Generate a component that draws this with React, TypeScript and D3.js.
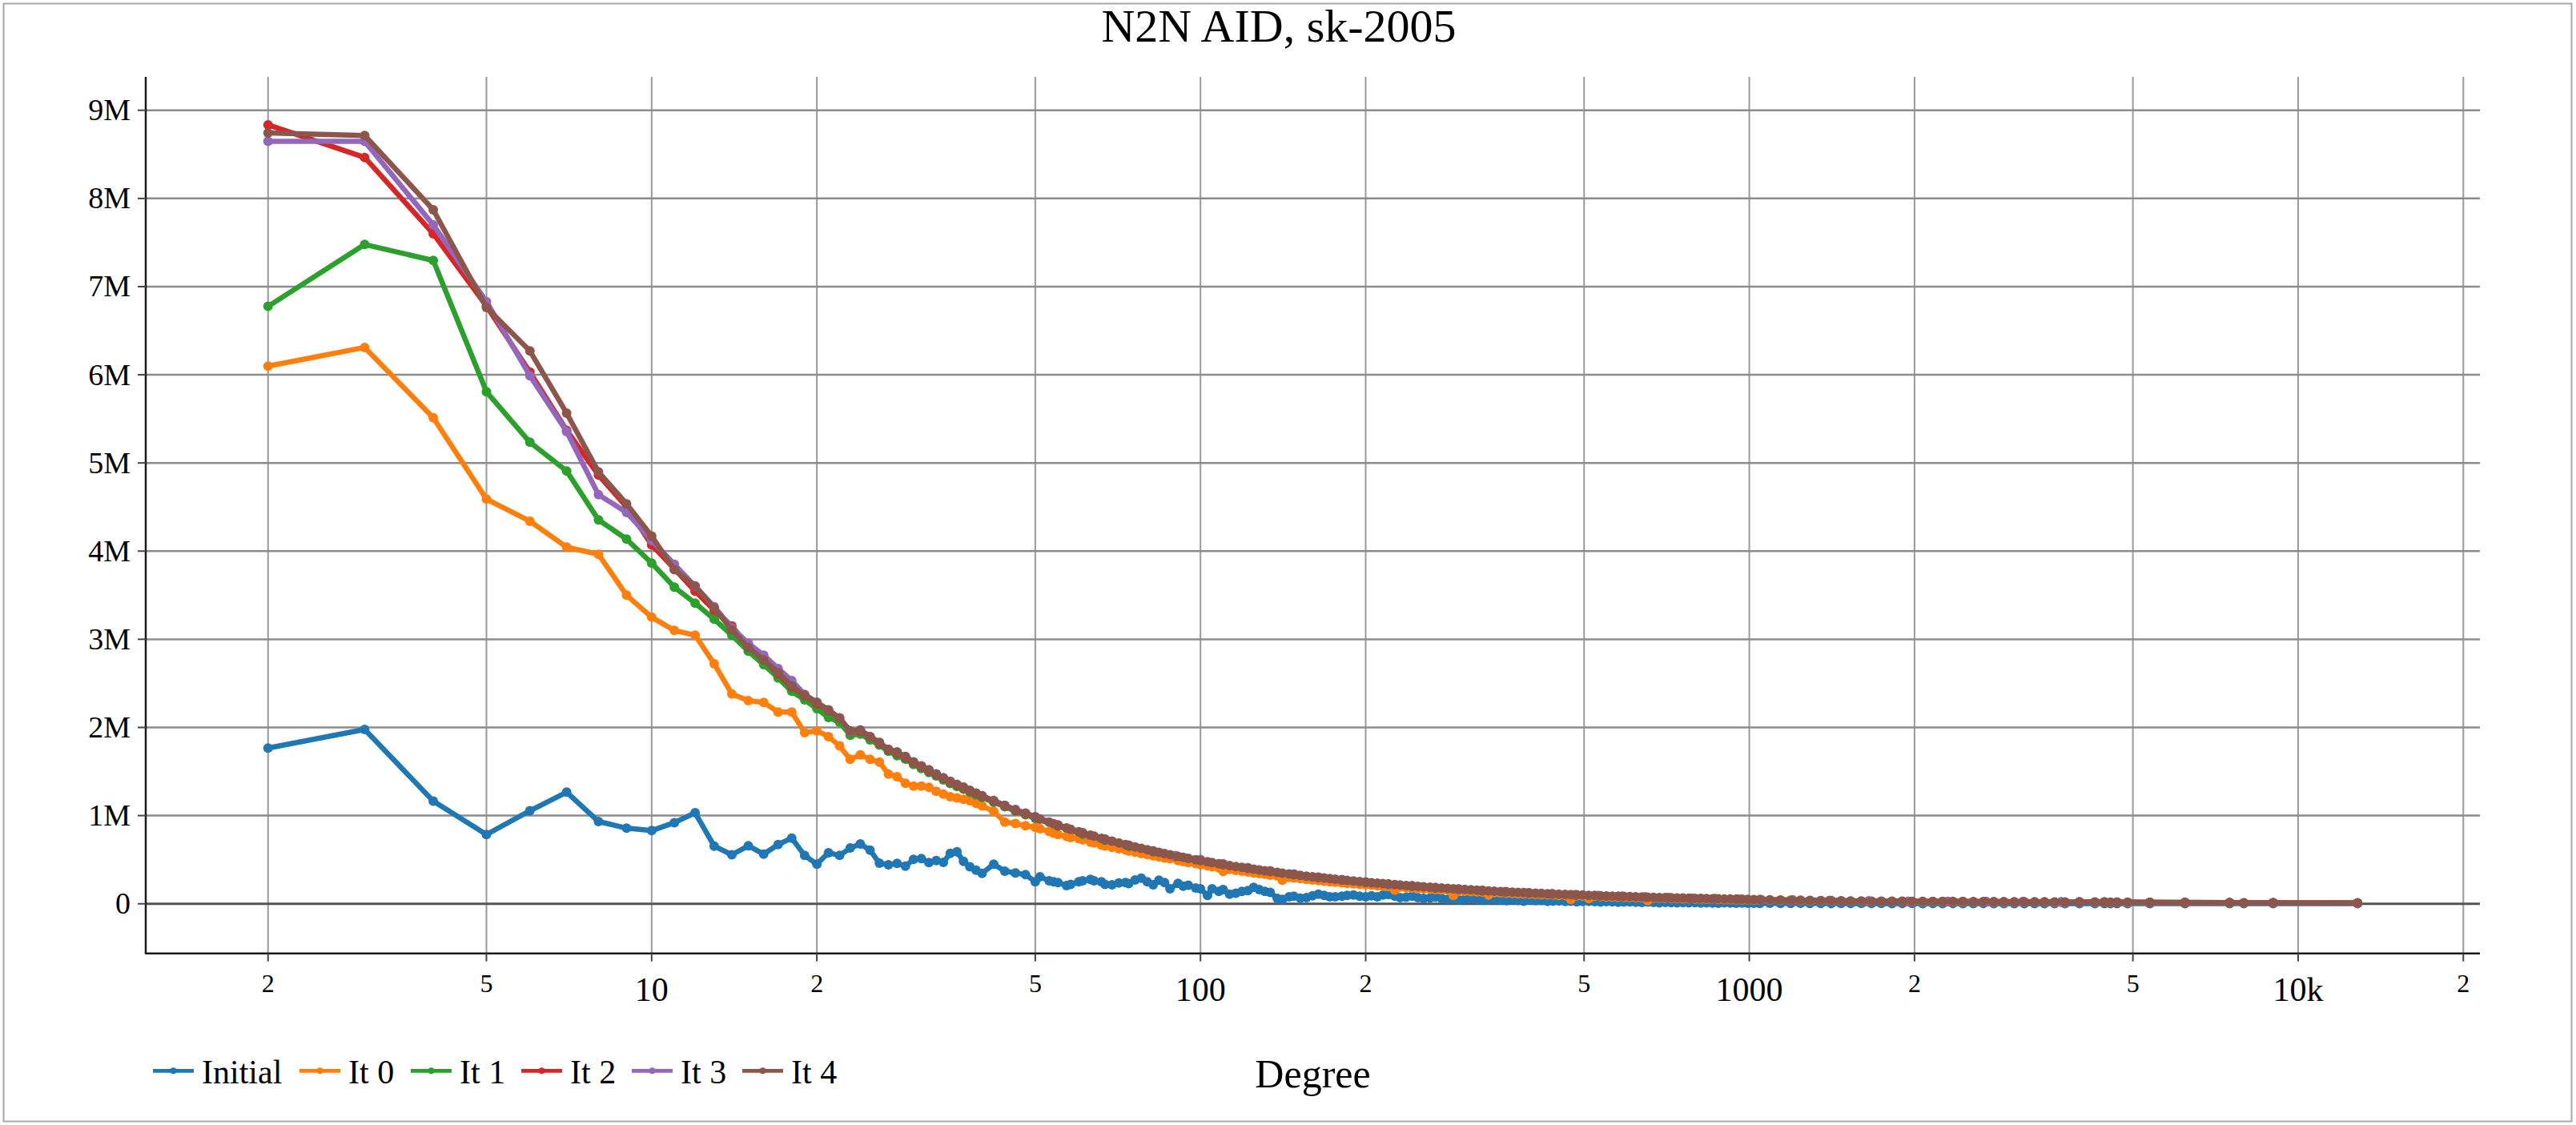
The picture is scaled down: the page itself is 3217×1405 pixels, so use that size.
import React from 'react';
import * as d3 from 'd3';

// ---------- data (values in millions) ----------
const seriesNames = ['Initial', 'It 0', 'It 1', 'It 2', 'It 3', 'It 4'];
const seriesColors = ['#1f77b4', '#ff7f0e', '#2ca02c', '#d62728', '#9467bd', '#8c564b'];

const degreesHead = [2, 3, 4, 5, 6, 7, 8, 9, 10, 11, 12, 13, 14, 15, 16, 17, 18, 19, 20, 21, 22, 23, 24, 25, 26, 27, 28, 29, 30, 31, 32, 33, 34, 35, 36, 37, 38, 39, 40, 42, 44, 46, 48, 50];

const degreesTail = [
  51, 53, 54, 55, 57, 58, 60, 61, 63, 64,
  66, 67, 69, 71, 73, 74, 76, 78, 80, 82,
  84, 86, 88, 91, 93, 95, 98, 100, 103, 105,
  108, 110, 113, 116, 119, 122, 125, 128, 131, 134,
  138, 141, 145, 148, 152, 156, 160, 164, 168, 172,
  176, 181, 185, 190, 195, 200, 205, 210, 215, 220,
  226, 231, 237, 243, 249, 255, 262, 268, 275, 282,
  289, 296, 303, 311, 319, 327, 335, 343, 352, 361,
  370, 379, 388, 398, 408, 418, 429, 439, 450, 462,
  473, 485, 497, 510, 523, 536, 549, 563, 577, 591,
  606, 621, 637, 653, 669, 686, 703, 721, 739, 757,
  776, 796, 816, 836, 857, 878, 900, 923, 946, 970,
  994, 1019, 1045, 1090, 1140, 1190, 1240, 1290, 1350, 1410,
  1470, 1530, 1600, 1670, 1740, 1820, 1900, 1980, 2070, 2160,
  2250, 2350, 2450, 2560, 2670, 2790, 2910, 3040, 3170, 3310,
  3450, 3600, 3760, 3995, 4262, 4437, 4551, 4677, 4891, 5368,
  6220, 7502, 7963, 9007, 12834,
];

const degreesTailCoarse = [55, 61, 67, 74, 82, 90, 100, 110, 122, 134, 148, 164, 181, 200, 220, 243, 268, 295, 326, 359, 396, 437, 482, 531, 586, 646, 712, 785, 865, 953, 1050, 1200, 1400, 1650, 1950, 2300, 2700, 3150, 3700, 3995, 4437, 4677, 5368, 6220, 7502, 9007, 12834];

const initialHead = [1.766, 1.977, 1.165, 0.785, 1.055, 1.266, 0.933, 0.857, 0.83, 0.92, 1.032, 0.654, 0.556, 0.657, 0.563, 0.672, 0.745, 0.548, 0.45, 0.579, 0.548, 0.632, 0.679, 0.609, 0.46, 0.442, 0.458, 0.427, 0.503, 0.512, 0.467, 0.49, 0.47, 0.572, 0.59, 0.48, 0.42, 0.381, 0.345, 0.45, 0.37, 0.35, 0.33, 0.25];
const initialTail = [
  0.306, 0.26, 0.25, 0.24, 0.206, 0.22, 0.25, 0.26, 0.276, 0.26,
  0.25, 0.22, 0.215, 0.235, 0.24, 0.23, 0.27, 0.291, 0.25, 0.215,
  0.267, 0.24, 0.17, 0.231, 0.2, 0.21, 0.18, 0.17, 0.094, 0.17,
  0.14, 0.16, 0.109, 0.12, 0.14, 0.15, 0.185, 0.16, 0.14, 0.13,
  0.06, 0.049, 0.08, 0.085, 0.064, 0.07, 0.09, 0.109, 0.095, 0.08,
  0.079, 0.085, 0.095, 0.1, 0.085, 0.079, 0.09, 0.08, 0.1, 0.105,
  0.085, 0.07, 0.075, 0.085, 0.07, 0.06, 0.065, 0.075, 0.06, 0.05,
  0.055, 0.043, 0.05, 0.06, 0.048, 0.04, 0.045, 0.05, 0.04, 0.035,
  0.045, 0.038, 0.03, 0.04, 0.035, 0.038, 0.028, 0.032, 0.034, 0.026,
  0.03, 0.022, 0.027, 0.028, 0.024, 0.02, 0.025, 0.022, 0.018, 0.021,
  0.022, 0.017, 0.015, 0.019, 0.016, 0.012, 0.016, 0.014, 0.01, 0.013,
  0.011, 0.013, 0.008, 0.011, 0.009, 0.007, 0.01, 0.008, 0.006, 0.008,
  0.006, 0.007, 0.005, 0.006, 0.004, 0.005, 0.006, 0.004, 0.005, 0.003,
  0.004, 0.003, 0.005, 0.003, 0.004, 0.002, 0.003, 0.004, 0.002, 0.003,
  0.002, 0.003, 0.002, 0.002, 0.003, 0.002, 0.001, 0.002, 0.002, 0.001,
  0.002, 0.001, 0.001, 0.002, 0.001, 0.001, 0.001, 0.001, 0.001, 0.001,
  0.001, 0.001, 0.001, 0.001, 0.001,
];

const it0Head = [6.098, 6.31, 5.513, 4.59, 4.339, 4.045, 3.964, 3.5, 3.25, 3.1, 3.046, 2.722, 2.38, 2.304, 2.283, 2.174, 2.174, 1.941, 1.962, 1.896, 1.79, 1.638, 1.689, 1.638, 1.608, 1.471, 1.441, 1.366, 1.335, 1.335, 1.32, 1.275, 1.244, 1.214, 1.2, 1.184, 1.169, 1.139, 1.11, 1.048, 0.926, 0.91, 0.885, 0.866];
const it0Tail = [
  0.85, 0.82, 0.8, 0.785, 0.765, 0.752, 0.74, 0.725, 0.7, 0.69,
  0.665, 0.655, 0.64, 0.625, 0.61, 0.6, 0.585, 0.57, 0.558, 0.545,
  0.532, 0.52, 0.51, 0.49, 0.478, 0.468, 0.455, 0.442, 0.43, 0.42,
  0.405, 0.367, 0.39, 0.378, 0.37, 0.36, 0.35, 0.342, 0.335, 0.325,
  0.315, 0.267, 0.3, 0.292, 0.285, 0.277, 0.27, 0.262, 0.256, 0.25,
  0.244, 0.238, 0.232, 0.226, 0.22, 0.215, 0.21, 0.205, 0.2, 0.196,
  0.154, 0.187, 0.182, 0.178, 0.173, 0.169, 0.165, 0.161, 0.157, 0.153,
  0.094, 0.146, 0.143, 0.139, 0.136, 0.132, 0.1, 0.126, 0.123, 0.12,
  0.117, 0.114, 0.111, 0.108, 0.106, 0.103, 0.101, 0.099, 0.096, 0.094,
  0.05, 0.09, 0.088, 0.06, 0.083, 0.081, 0.079, 0.077, 0.075, 0.073,
  0.072, 0.07, 0.068, 0.035, 0.065, 0.063, 0.062, 0.06, 0.059, 0.057,
  0.056, 0.055, 0.053, 0.052, 0.051, 0.049, 0.048, 0.047, 0.046, 0.045,
  0.044, 0.043, 0.042, 0.04, 0.038, 0.037, 0.036, 0.034, 0.033, 0.032,
  0.031, 0.029, 0.028, 0.027, 0.027, 0.026, 0.026, 0.025, 0.025, 0.024,
  0.024, 0.023, 0.023, 0.022, 0.022, 0.021, 0.021, 0.02, 0.02, 0.019,
  0.019, 0.018, 0.018, 0.017, 0.017, 0.016, 0.016, 0.016, 0.015, 0.014,
  0.013, 0.012, 0.011, 0.01, 0.008,
];

const it1Head = [6.776, 7.478, 7.297, 5.807, 5.235, 4.908, 4.354, 4.136, 3.864, 3.591, 3.41, 3.228, 3.046, 2.865, 2.713, 2.561, 2.41, 2.313, 2.213, 2.113, 2.06, 1.911, 1.925, 1.86, 1.8, 1.73, 1.68, 1.64, 1.58, 1.535, 1.49, 1.45, 1.405, 1.365, 1.33, 1.3, 1.265, 1.235, 1.205, 1.15, 1.1, 1.05, 1.01, 0.97];
const it1Tail = [0.88, 0.79, 0.72, 0.652, 0.59, 0.537, 0.492, 0.445, 0.402, 0.368, 0.331, 0.297, 0.268, 0.242, 0.22, 0.199, 0.18, 0.163, 0.148, 0.134, 0.122, 0.11, 0.1, 0.091, 0.082, 0.075, 0.068, 0.061, 0.056, 0.05, 0.046, 0.04, 0.034, 0.029, 0.027, 0.025, 0.023, 0.021, 0.019, 0.019, 0.018, 0.017, 0.015, 0.014, 0.012, 0.01, 0.008];

const it2Head = [8.835, 8.465, 7.6, 6.78, 6.03, 5.37, 4.863, 4.5, 4.07, 3.8, 3.546, 3.33, 3.15, 2.92, 2.77, 2.61, 2.46, 2.36, 2.27, 2.19, 2.11, 1.95, 1.96, 1.89, 1.82, 1.745, 1.71, 1.66, 1.6, 1.555, 1.51, 1.465, 1.42, 1.38, 1.345, 1.315, 1.28, 1.25, 1.218, 1.165, 1.11, 1.06, 1.02, 0.98];
const it2Tail = [0.888, 0.8, 0.728, 0.659, 0.595, 0.542, 0.498, 0.45, 0.406, 0.372, 0.334, 0.3, 0.271, 0.245, 0.222, 0.201, 0.182, 0.165, 0.149, 0.135, 0.123, 0.111, 0.1, 0.091, 0.083, 0.075, 0.068, 0.062, 0.056, 0.051, 0.046, 0.041, 0.035, 0.03, 0.027, 0.025, 0.024, 0.022, 0.02, 0.019, 0.018, 0.018, 0.016, 0.014, 0.013, 0.011, 0.009];

const it3Head = [8.647, 8.647, 7.7, 6.83, 5.99, 5.356, 4.641, 4.439, 4.12, 3.85, 3.6, 3.37, 3.13, 2.955, 2.82, 2.668, 2.531, 2.375, 2.285, 2.2, 2.105, 1.955, 1.97, 1.895, 1.83, 1.752, 1.72, 1.67, 1.61, 1.565, 1.52, 1.474, 1.43, 1.39, 1.354, 1.323, 1.287, 1.256, 1.226, 1.172, 1.117, 1.068, 1.028, 0.988];
const it3Tail = [0.895, 0.805, 0.733, 0.664, 0.6, 0.547, 0.502, 0.454, 0.41, 0.375, 0.337, 0.302, 0.273, 0.247, 0.224, 0.203, 0.184, 0.167, 0.151, 0.137, 0.125, 0.113, 0.102, 0.093, 0.084, 0.077, 0.07, 0.063, 0.058, 0.052, 0.048, 0.042, 0.036, 0.031, 0.028, 0.026, 0.024, 0.022, 0.02, 0.02, 0.019, 0.018, 0.016, 0.015, 0.013, 0.011, 0.009];

const it4Head = [8.744, 8.714, 7.872, 6.764, 6.27, 5.565, 4.899, 4.536, 4.17, 3.788, 3.606, 3.355, 3.106, 2.906, 2.767, 2.622, 2.471, 2.365, 2.283, 2.198, 2.102, 1.962, 1.971, 1.896, 1.829, 1.75, 1.72, 1.669, 1.608, 1.562, 1.517, 1.471, 1.426, 1.387, 1.351, 1.32, 1.284, 1.253, 1.223, 1.169, 1.114, 1.065, 1.025, 0.985];
const it4Tail = [
  0.961, 0.925, 0.907, 0.891, 0.86, 0.845, 0.817, 0.803, 0.778, 0.766,
  0.742, 0.731, 0.71, 0.69, 0.671, 0.662, 0.645, 0.628, 0.613, 0.598,
  0.583, 0.57, 0.557, 0.538, 0.527, 0.516, 0.5, 0.49, 0.476, 0.467,
  0.454, 0.445, 0.434, 0.422, 0.412, 0.402, 0.392, 0.383, 0.374, 0.366,
  0.355, 0.348, 0.338, 0.331, 0.322, 0.314, 0.306, 0.299, 0.292, 0.285,
  0.278, 0.271, 0.265, 0.258, 0.251, 0.245, 0.239, 0.233, 0.228, 0.223,
  0.217, 0.212, 0.207, 0.202, 0.197, 0.192, 0.187, 0.183, 0.178, 0.174,
  0.17, 0.166, 0.162, 0.158, 0.154, 0.15, 0.146, 0.143, 0.139, 0.136,
  0.132, 0.129, 0.126, 0.123, 0.12, 0.117, 0.114, 0.112, 0.109, 0.106,
  0.104, 0.101, 0.099, 0.096, 0.094, 0.091, 0.089, 0.087, 0.085, 0.083,
  0.081, 0.079, 0.077, 0.075, 0.073, 0.071, 0.07, 0.068, 0.066, 0.065,
  0.063, 0.062, 0.06, 0.059, 0.057, 0.056, 0.054, 0.053, 0.052, 0.051,
  0.049, 0.048, 0.047, 0.045, 0.043, 0.041, 0.04, 0.038, 0.037, 0.035,
  0.034, 0.032, 0.031, 0.03, 0.03, 0.029, 0.029, 0.028, 0.028, 0.027,
  0.027, 0.026, 0.026, 0.025, 0.025, 0.024, 0.024, 0.023, 0.023, 0.022,
  0.022, 0.021, 0.021, 0.02, 0.019, 0.019, 0.018, 0.018, 0.017, 0.016,
  0.015, 0.013, 0.012, 0.011, 0.009,
];

const xTickValues = [2, 5, 10, 20, 50, 100, 200, 500, 1000, 2000, 5000, 10000, 20000];
const xTickLabels = ['2', '5', '10', '2', '5', '100', '2', '5', '1000', '2', '5', '10k', '2'];
const yTickValues = [0, 1, 2, 3, 4, 5, 6, 7, 8, 9];
const yTickLabels = ['0', '1M', '2M', '3M', '4M', '5M', '6M', '7M', '8M', '9M'];

const titleText = 'N2N AID, sk-2005';
const xAxisTitle = 'Degree';

// ---------- layout ----------
const W = 3217;
const H = 1405;
const plotLeft = 182;
const plotRight = 3097;
const plotTop = 96;
const plotBottom = 1190.7;
const FONT = "'Liberation Serif', 'Times New Roman', serif";
const legendX = [191, 374, 513, 651, 789, 927];

export default function App() {
  const x = d3.scaleLog().domain([1.1972, 21441]).range([plotLeft, plotRight]);
  const y = d3.scaleLinear().domain([-0.563, 9.379]).range([plotBottom, plotTop]);

  const series = [
    { xs: degreesHead.concat(degreesTail), ys: initialHead.concat(initialTail) },
    { xs: degreesHead.concat(degreesTail), ys: it0Head.concat(it0Tail) },
    { xs: degreesHead.concat(degreesTailCoarse), ys: it1Head.concat(it1Tail) },
    { xs: degreesHead.concat(degreesTailCoarse), ys: it2Head.concat(it2Tail) },
    { xs: degreesHead.concat(degreesTailCoarse), ys: it3Head.concat(it3Tail) },
    { xs: degreesHead.concat(degreesTail), ys: it4Head.concat(it4Tail) },
  ].map((s, i) => ({
    name: seriesNames[i],
    color: seriesColors[i],
    pts: s.xs.map((d, j) => [d, s.ys[j]] as [number, number]),
  }));

  const line = d3
    .line<[number, number]>()
    .x((d) => x(d[0]))
    .y((d) => y(d[1]));

  return (
    <svg
      width={W}
      height={H}
      style={{ position: 'absolute', left: 0, top: 0, background: '#fff' }}
      fontFamily={FONT}
    >
      <rect x={0} y={0} width={W} height={H} fill="#fff" />
      <rect x={4.5} y={4.5} width={3207} height={1396} fill="none" stroke="#a8a8a8" strokeWidth={2} />

      <defs>
        <clipPath id="plotclip">
          <rect x={plotLeft} y={plotTop - 10} width={plotRight - plotLeft} height={plotBottom - plotTop + 10} />
        </clipPath>
      </defs>

      {xTickValues.map((v) => (
        <line key={'vg' + v} x1={x(v)} x2={x(v)} y1={plotTop} y2={plotBottom} stroke="#9a9a9a" strokeWidth={2} />
      ))}
      {yTickValues
        .filter((v) => v !== 0)
        .map((v) => (
          <line key={'hg' + v} x1={plotLeft} x2={plotRight} y1={y(v)} y2={y(v)} stroke="#8c8c8c" strokeWidth={2.5} />
        ))}
      <line x1={plotLeft} x2={plotRight} y1={y(0)} y2={y(0)} stroke="#555" strokeWidth={3} />

      <g clipPath="url(#plotclip)">
        {series.map((s) => (
          <g key={s.name}>
            <path d={line(s.pts) || ''} fill="none" stroke={s.color} strokeWidth={6.5} strokeLinejoin="round" strokeLinecap="round" />
            {s.pts.map((p, j) => (
              <circle key={j} cx={x(p[0])} cy={y(p[1])} r={6} fill={s.color} />
            ))}
          </g>
        ))}
      </g>

      <line x1={plotLeft} x2={plotLeft} y1={plotTop} y2={plotBottom + 1} stroke="#1a1a1a" strokeWidth={2.5} />
      <line x1={plotLeft} x2={plotRight} y1={plotBottom} y2={plotBottom} stroke="#1a1a1a" strokeWidth={2.5} />

      {xTickValues.map((v, i) => {
        const major = xTickLabels[i].length > 1;
        return (
          <g key={'xt' + v}>
            <line x1={x(v)} x2={x(v)} y1={plotBottom} y2={plotBottom + 10} stroke="#444" strokeWidth={2} />
            <text x={x(v)} y={major ? 1250 : 1239} fontSize={major ? 42 : 32} textAnchor="middle" fill="#000">
              {xTickLabels[i]}
            </text>
          </g>
        );
      })}

      {yTickValues.map((v, i) => (
        <g key={'yt' + v}>
          <line x1={plotLeft - 10} x2={plotLeft} y1={y(v)} y2={y(v)} stroke="#444" strokeWidth={2} />
          <text x={163} y={y(v) + 12.5} fontSize={38} textAnchor="end" fill="#000">
            {yTickLabels[i]}
          </text>
        </g>
      ))}

      <text x={1597} y={52} fontSize={58} textAnchor="middle" fill="#000">
        {titleText}
      </text>

      <text x={(plotLeft + plotRight) / 2} y={1358} fontSize={50} textAnchor="middle" fill="#000">
        {xAxisTitle}
      </text>

      {series.map((s, i) => (
        <g key={'lg' + s.name}>
          <line x1={legendX[i]} x2={legendX[i] + 51} y1={1337.3} y2={1337.3} stroke={s.color} strokeWidth={4.7} />
          <circle cx={legendX[i] + 25.5} cy={1337.3} r={4} fill={s.color} />
          <text x={legendX[i] + 61} y={1352.7} fontSize={42} fill="#000">
            {s.name}
          </text>
        </g>
      ))}
    </svg>
  );
}
